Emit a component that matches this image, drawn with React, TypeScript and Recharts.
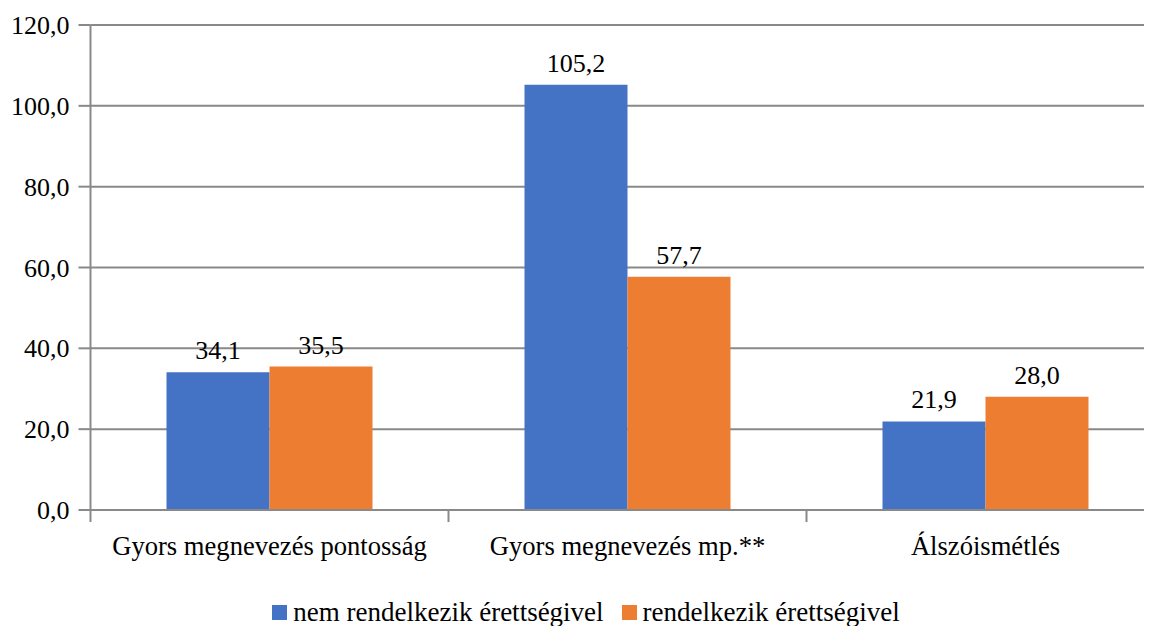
import React from 'react';
import { BarChart, Bar, XAxis, YAxis, CartesianGrid, LabelList, Legend } from 'recharts';

const categories = ['Gyors megnevezés pontosság', 'Gyors megnevezés mp.**', 'Álszóismétlés'];
const seriesNames = ['nem rendelkezik érettségivel', 'rendelkezik érettségivel'];
const noDiploma = [34.1, 105.2, 21.9];
const withDiploma = [35.5, 57.7, 28.0];
const yTicks = [0, 20, 40, 60, 80, 100, 120];

const colors = ['#4472C4', '#ED7D31'];
const gridColor = '#898989';
const FONT = 'Liberation Serif';

const CHART_W = 1160;
const CHART_H = 618;
const MARGIN = { top: 17, right: 3.5, left: 0, bottom: 56 };
const Y_W = 82.5;
const BAND = (CHART_W - MARGIN.left - MARGIN.right - Y_W) / categories.length;

const data = categories.map((c, i) => ({ name: c, a: noDiploma[i], b: withDiploma[i] }));

const fmt = (v: number) => v.toFixed(1).replace('.', ',');

const XTick = (props: any) => {
  const { x, y, payload, index } = props;
  const left = x - BAND / 2;
  const right = x + BAND / 2;
  return (
    <g>
      <line x1={left} x2={left} y1={y} y2={y + 12} stroke={gridColor} strokeWidth={2} />
      {index === categories.length - 1 && (
        <line x1={right} x2={right} y1={y} y2={y + 12} stroke={gridColor} strokeWidth={2} />
      )}
      <text x={x} y={y + 45} textAnchor="middle" fill="#000" fontSize={26.6} fontFamily={FONT}>
        {payload.value}
      </text>
    </g>
  );
};

const YTick = (props: any) => {
  const { x, y, payload } = props;
  return (
    <text x={x} y={y} dy={9} textAnchor="end" fill="#000" fontSize={26} fontFamily={FONT}>
      {fmt(Number(payload.value))}
    </text>
  );
};

const BarLabel = (props: any) => {
  const { x, y, width, value } = props;
  return (
    <text x={x + width / 2} y={y - 13} textAnchor="middle" fill="#000" fontSize={26} fontFamily={FONT}>
      {fmt(Number(value))}
    </text>
  );
};

const LegendContent = () => (
  <div style={{ display: 'flex', justifyContent: 'center', alignItems: 'center', fontFamily: FONT, fontSize: 27, color: '#000', lineHeight: '30px', paddingRight: 4 }}>
    {seriesNames.map((n, i) => (
      <div key={n} style={{ display: 'flex', alignItems: 'center', marginRight: i === 0 ? 18 : 0 }}>
        <span style={{ display: 'inline-block', width: 15, height: 15, background: colors[i], marginRight: 6 }} />
        <span>{n}</span>
      </div>
    ))}
  </div>
);

export default function App() {
  return (
    <div style={{ width: 1144, height: CHART_H, overflow: 'hidden', fontFamily: FONT }}>
      <BarChart width={CHART_W} height={CHART_H} data={data} margin={MARGIN} barGap={0} barCategoryGap={76}>
        <CartesianGrid vertical={false} stroke={gridColor} strokeWidth={2} />
        <XAxis
          dataKey="name"
          axisLine={{ stroke: gridColor, strokeWidth: 2 }}
          tickLine={false}
          tickSize={0}
          tickMargin={0}
          height={60}
          tick={<XTick />}
          interval={0}
        />
        <YAxis
          width={Y_W}
          domain={[0, 120]}
          ticks={yTicks}
          axisLine={{ stroke: gridColor, strokeWidth: 2 }}
          tickLine={{ stroke: gridColor, strokeWidth: 2 }}
          tickSize={12}
          tickMargin={9}
          tick={<YTick />}
        />
        <Legend
          verticalAlign="middle"
          align="center"
          content={<LegendContent />}
          wrapperStyle={{ top: 589, left: 0, width: CHART_W, height: 30 }}
        />
        <Bar dataKey="a" name={seriesNames[0]} fill={colors[0]} isAnimationActive={false}>
          <LabelList dataKey="a" content={<BarLabel />} />
        </Bar>
        <Bar dataKey="b" name={seriesNames[1]} fill={colors[1]} isAnimationActive={false}>
          <LabelList dataKey="b" content={<BarLabel />} />
        </Bar>
      </BarChart>
    </div>
  );
}
